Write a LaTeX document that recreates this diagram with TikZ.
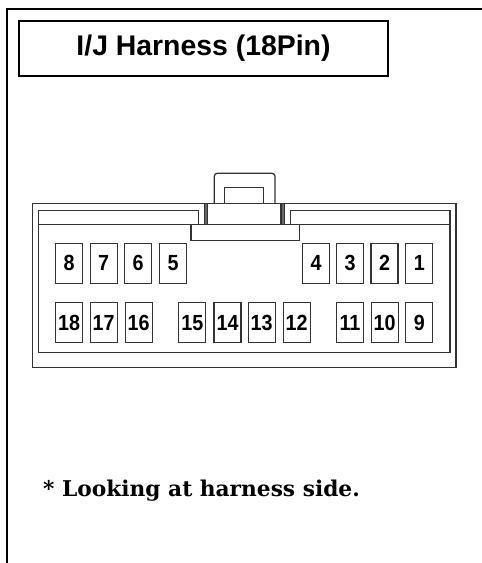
\documentclass[tikz,border=0pt]{standalone}
\usepackage{fontspec}
\setmainfont{DejaVu Serif}
\newfontfamily\titlefont{Liberation Sans}
\newfontfamily\pinfont[FakeStretch=0.9]{Liberation Sans}
\tikzset{
  frameline/.style={line width=2bp, black},
  housing/.style={line width=1.3bp, draw=black!80},
  pinbox/.style={draw=black!80, line width=1.3bp, minimum width=27bp, minimum height=40bp, inner sep=0pt,
    font=\pinfont\bfseries\fontsize{22}{23}\selectfont},
  titlebox/.style={draw=black, line width=2bp, minimum width=369bp, minimum height=55bp, inner sep=0pt,
    font=\titlefont\bfseries\fontsize{28.5}{30}\selectfont},
  notetext/.style={anchor=base west, inner sep=0pt, font=\bfseries\fontsize{21.8}{24}\selectfont}
}
\begin{document}
\begin{tikzpicture}[x=1bp,y=-1bp]
\useasboundingbox (0,0) rectangle (482,563);
% outer frame
\draw[frameline] (7,563) -- (7,9) -- (482,9);
% title
\node[titlebox] (title) at (203.5,48.5) {I/J Harness (18Pin)};
% connector housing
\draw[housing] (32.3,203.3) rectangle (456,367.5);
\draw[housing] (38.3,224.5) -- (38.3,352.7) -- (450,352.7) -- (450,224.5);
\draw[housing] (38.3,224.5) -- (38.3,210.5) -- (198.5,210.5) -- (198.5,224.5);
\draw[housing] (290.5,224.5) -- (290.5,210.5) -- (450,210.5) -- (450,224.5);
\draw[housing] (38.3,224.5) -- (450,224.5);
\draw[housing] (191,224.5) rectangle (299.3,240.5);
% posts
\draw[housing, fill=black!60] (204.5,203.3) rectangle (207.7,224.5);
\draw[housing, fill=black!60] (281,203.3) rectangle (284.3,224.5);
% latch
\draw[housing, rounded corners=3bp] (214.3,203.3) -- (214.3,173.3) -- (275,173.3) -- (275,203.3);
\draw[housing] (224.3,203.3) -- (224.3,187.7) -- (263.3,187.7) -- (263.3,203.3);
% pins top row
\node[pinbox] (p8) at (69.2,263.3) {8};
\node[pinbox] (p7) at (103.7,263.3) {7};
\node[pinbox] (p6) at (138,263.3) {6};
\node[pinbox] (p5) at (173,263.3) {5};
\node[pinbox] (p4) at (316,263.3) {4};
\node[pinbox] (p3) at (350,263.3) {3};
\node[pinbox] (p2) at (384.5,263.3) {2};
\node[pinbox] (p1) at (419.3,263.3) {1};
% pins bottom row
\node[pinbox] (p18) at (69.2,322.7) {18};
\node[pinbox] (p17) at (103.7,322.7) {17};
\node[pinbox] (p16) at (138.7,322.7) {16};
\node[pinbox] (p15) at (192.3,322.7) {15};
\node[pinbox] (p14) at (227.5,322.7) {14};
\node[pinbox] (p13) at (261.7,322.7) {13};
\node[pinbox] (p12) at (296.7,322.7) {12};
\node[pinbox] (p11) at (350,322.7) {11};
\node[pinbox] (p10) at (384.7,322.7) {10};
\node[pinbox] (p9) at (419.3,322.7) {9};
% note
\node[notetext] (note) at (43,496) {* Looking at harness side.};
\end{tikzpicture}
\end{document}
